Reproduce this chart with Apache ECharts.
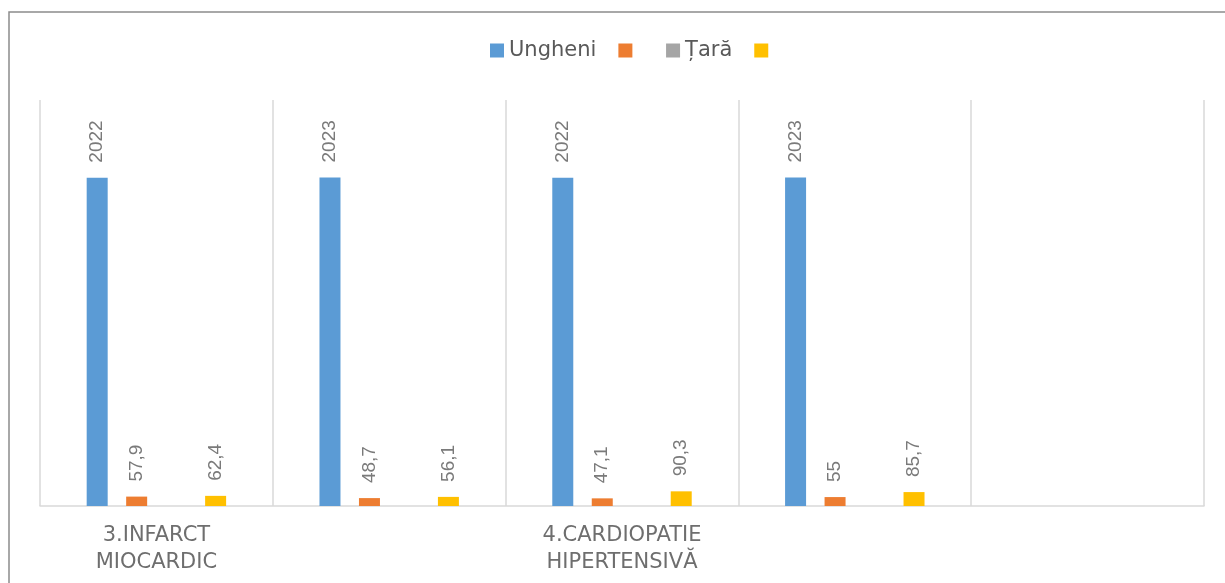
<!DOCTYPE html>
<html>
<head>
<meta charset="utf-8">
<script src="https://cdn.jsdelivr.net/npm/echarts@6/dist/echarts.min.js"></script>
<style>
  html, body { margin: 0; padding: 0; background: #ffffff; }
  #chart { width: 1225px; height: 583px; }
</style>
</head>
<body>
<div id="chart"></div>
<script>
// Categories (only two slots carry a visible label in the original)
const categories = ['3.INFARCT\nMIOCARDIC', '', '4.CARDIOPATIE\nHIPERTENSIVĂ', '', ''];

// Series names
const seriesNames = ['Ungheni', ' ', 'Țară', '  '];

// Series values
const ungheni = [2022, 2023, 2022, 2023, null];
const orange = [57.9, 48.7, 47.1, 55, null];
const tara = [null, null, null, null, null];
const yellow = [62.4, 56.1, 90.3, 85.7, null];

const colors = ['#5B9BD5', '#ED7D31', '#A5A5A5', '#FFC000'];

const chart = echarts.init(document.getElementById('chart'), null, { renderer: 'canvas' });

const labelCfg = {
  show: true,
  position: 'top',
  rotate: 90,
  align: 'left',
  verticalAlign: 'middle',
  distance: 15,
  color: '#7a7a7a',
  fontFamily: 'Liberation Sans, Arial, sans-serif',
  fontSize: 19,
  formatter: p => (p.value == null ? '' : String(p.value).replace('.', ','))
};

function mkSeries(name, data, color) {
  return {
    name: name,
    type: 'bar',
    data: data,
    barWidth: 21,
    barGap: '88%',
    itemStyle: { color: color },
    label: labelCfg,
    emphasis: { disabled: true }
  };
}

chart.setOption({
  animation: false,
  backgroundColor: '#ffffff',
  color: colors,
  graphic: [{
    type: 'rect',
    shape: { x: 9, y: 12, width: 1400, height: 800 },
    style: { fill: 'none', stroke: '#8c8c8c', lineWidth: 1.5 },
    silent: true
  }],
  legend: {
    top: 35,
    left: 485,
    itemWidth: 14,
    itemHeight: 14,
    itemGap: 22,
    icon: 'rect',
    data: seriesNames,
    textStyle: {
      color: '#595959',
      fontSize: 21,
      fontFamily: 'DejaVu Sans, sans-serif'
    }
  },
  grid: {
    left: 40,
    right: 21,
    top: 100,
    bottom: 77,
    containLabel: false
  },
  xAxis: {
    type: 'category',
    data: categories,
    boundaryGap: true,
    axisLine: { show: true, lineStyle: { color: '#d9d9d9', width: 1.5 } },
    axisTick: { show: false },
    splitLine: { show: true, lineStyle: { color: '#d9d9d9', width: 1.5 } },
    axisLabel: {
      interval: 0,
      margin: 16,
      color: '#6e6e6e',
      fontSize: 21,
      lineHeight: 27,
      fontFamily: 'DejaVu Sans, sans-serif'
    }
  },
  yAxis: {
    type: 'value',
    min: 0,
    max: 2500,
    show: false,
    splitLine: { show: false }
  },
  series: [
    mkSeries(seriesNames[0], ungheni, colors[0]),
    mkSeries(seriesNames[1], orange, colors[1]),
    mkSeries(seriesNames[2], tara, colors[2]),
    mkSeries(seriesNames[3], yellow, colors[3])
  ]
});
</script>
</body>
</html>
